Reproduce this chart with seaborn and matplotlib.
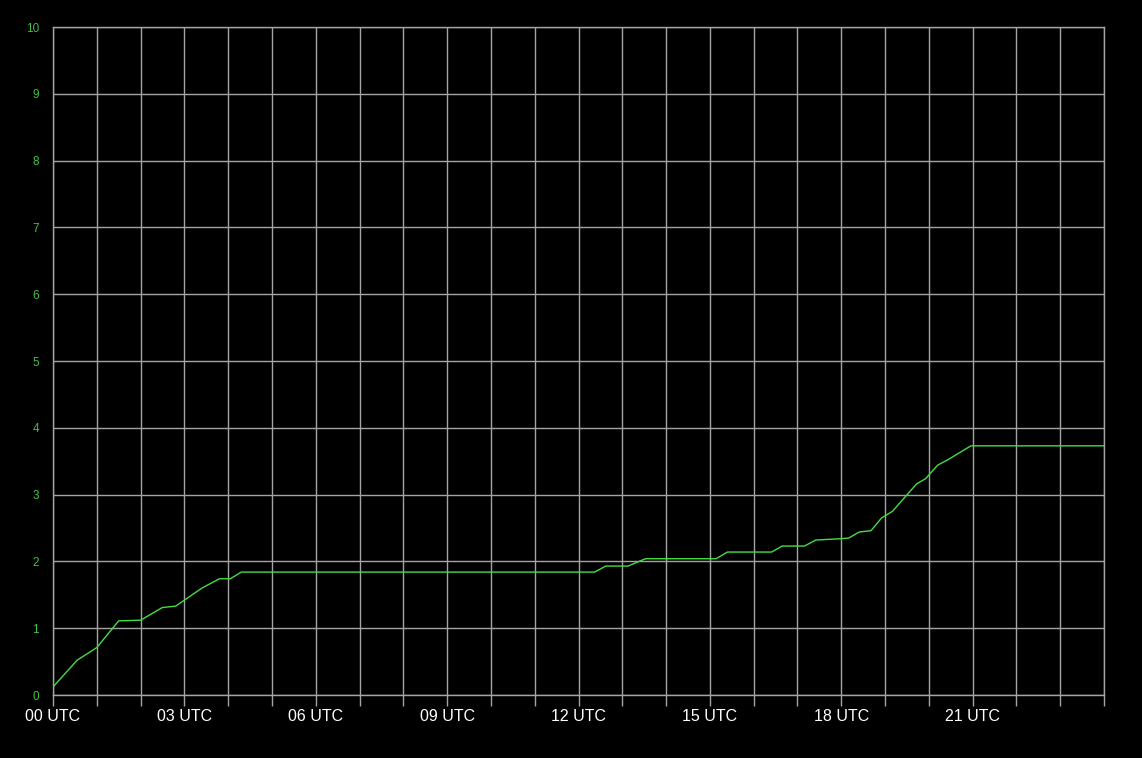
import numpy as np
import pandas as pd
import matplotlib
matplotlib.use("Agg")
import matplotlib.pyplot as plt
import seaborn as sns

# hours since 00 UTC and the values
hours = [0.0, 0.55, 1.0, 1.5, 2.0, 2.5, 2.8, 3.0, 3.4, 3.8, 4.05, 4.3,
         12.37, 12.62, 13.13, 13.53, 15.14, 15.4, 16.41, 16.65, 17.16, 17.42,
         18.0, 18.17, 18.41, 18.68, 18.92, 19.17, 19.72, 19.93, 20.2, 20.43,
         20.96, 24.0]
values = [0.12, 0.52, 0.71, 1.11, 1.12, 1.31, 1.33, 1.42, 1.6, 1.74, 1.74, 1.84,
          1.84, 1.93, 1.93, 2.04, 2.04, 2.14, 2.14, 2.23, 2.23, 2.32,
          2.34, 2.35, 2.44, 2.46, 2.65, 2.75, 3.16, 3.24, 3.44, 3.52,
          3.73, 3.73]

tick_hours = list(range(0, 25))
tick_labels = [f"{h:02d} UTC" if h % 3 == 0 and h < 24 else "" for h in tick_hours]
y_ticks = list(range(0, 11))

df = pd.DataFrame({"hour": hours, "value": values})

sns.set_style("dark")
plt.rcParams["font.family"] = ["Liberation Sans", "DejaVu Sans"]
fig = plt.figure(figsize=(11.42, 7.58), dpi=100, facecolor="black")
ax = fig.add_axes([53 / 1142, 63 / 758, 1051 / 1142, 668 / 758])
ax.set_facecolor("black")

grid_col = "#a4a4a4"
ax.set_xticks(tick_hours)
ax.set_xticklabels(tick_labels)
ax.set_yticks(y_ticks)
ax.grid(True, color=grid_col, linewidth=1.0)
ax.set_axisbelow(True)

sns.lineplot(data=df, x="hour", y="value", ax=ax, color="#44dd44", linewidth=1.0)

ax.set_xlim(0, 24)
ax.set_ylim(0, 10)
ax.set_xlabel("")
ax.set_ylabel("")

for s in ax.spines.values():
    s.set_color(grid_col)
    s.set_linewidth(1.0)

ax.tick_params(axis="x", colors=grid_col, length=8, width=1.0, direction="out",
               labelcolor="white", labelsize=11.5, pad=2, bottom=True)
ax.tick_params(axis="y", length=0, labelcolor="#44c044", labelsize=8.5, pad=10, left=True)

fig.savefig("out.png", dpi=100, facecolor="black")
